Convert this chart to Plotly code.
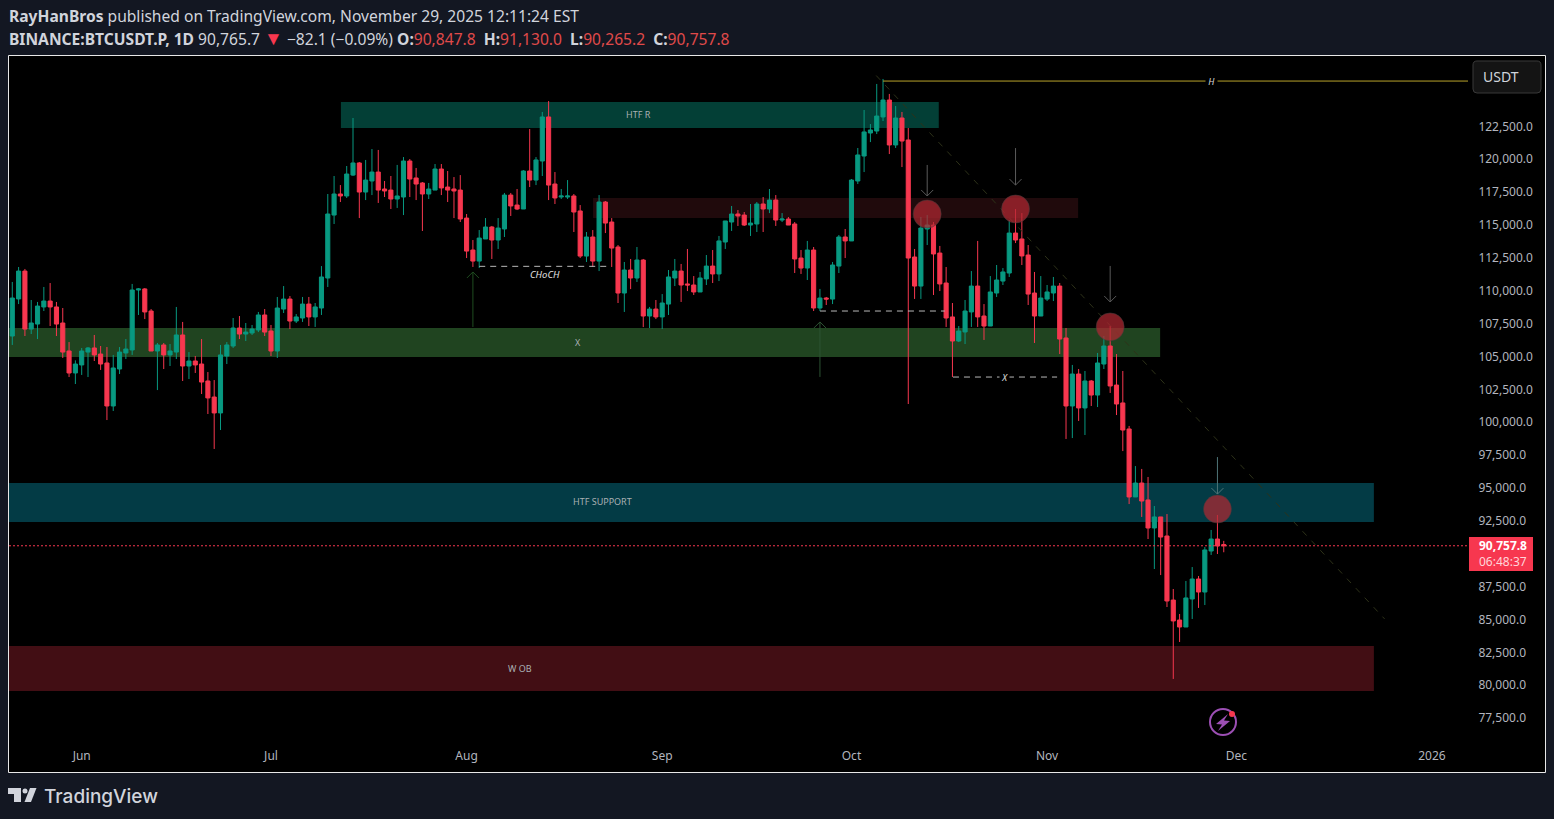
import pandas as pd
import plotly.graph_objects as go

W, H = 1554, 819

first_day = '2025-05-21'
opens = [
    106710, 109530, 111650, 107240, 107620, 108920, 109370, 108920, 107700, 105570,
    103900, 104510, 105490, 105800, 105340, 104660, 101390, 104200, 105420, 105650,
    110210, 110290, 108610, 105570, 106030, 105270, 105490, 106790, 104430, 104810,
    104580, 103290, 102070, 100860, 105190, 105950, 107320, 106860, 106940, 107170,
    108310, 107090, 105570, 108760, 109520, 107850, 108080, 109140, 108160, 108840,
    111120, 115910, 117510, 117360, 118950, 119870, 117660, 118500, 119180, 117890,
    117810, 117130, 117280, 120020, 118730, 118350, 117510, 117810, 119410, 118040,
    117890, 117810, 115680, 113250, 112410, 114090, 115000, 114010, 114850, 117430,
    116670, 116370, 119260, 118570, 120020, 123370, 118270, 117280, 117280, 117360,
    116220, 112790, 114240, 112410, 116900, 115380, 113480, 109980, 111730, 111120,
    112490, 108230, 108760, 108160, 109140, 111120, 111650, 110670, 110590, 110060,
    111050, 112030, 111430, 113860, 115380, 115990, 115910, 115150, 115230, 116750,
    116370, 117050, 115530, 115610, 115230, 112640, 111880, 113250, 108840, 109600,
    109520, 112030, 114240, 113940, 118500, 120400, 122150, 122300, 123370, 124660,
    121240, 123290, 121620, 112720, 110510, 114850, 115150, 113020, 110740, 108160,
    106330, 107020, 108540, 110510, 108230, 107470, 109980, 110890, 111500, 114540,
    114090, 112870, 109980, 108230, 109520, 109980, 110510, 106560, 101390, 103820,
    101240, 103290, 102220, 104580, 105950, 102980, 101620, 99640, 94470, 95530,
    94240, 92110, 92950, 91500, 86630, 85110, 84580, 86710, 88230, 87240,
    90360, 91270, 90847.8,
]
highs = [
    110820, 111960, 111810, 109450, 109300, 110440, 110740, 109300, 108840, 106250,
    104860, 105800, 105870, 106790, 105950, 105870, 105270, 105870, 106480, 110670,
    110360, 110360, 108760, 106180, 106180, 106100, 108920, 107780, 105490, 105190,
    106480, 103970, 103360, 106030, 106250, 108080, 108230, 107700, 107550, 108540,
    108760, 107550, 109680, 110510, 109750, 108380, 109680, 109680, 109220, 112030,
    117510, 118880, 118190, 119640, 123290, 119940, 120100, 120930, 120860, 118500,
    118880, 119720, 120320, 120170, 119490, 118420, 118350, 119790, 119790, 119260,
    118800, 118950, 115990, 114010, 114770, 115680, 115080, 115680, 117590, 117590,
    117890, 119330, 122450, 120320, 123750, 124580, 119180, 117890, 118570, 117510,
    116670, 114620, 114770, 117430, 116980, 115680, 113630, 112340, 112570, 113480,
    112570, 108920, 109450, 109900, 111730, 112570, 112190, 113330, 111270, 111580,
    112870, 113250, 114320, 115460, 116600, 116290, 116140, 116750, 116900, 117280,
    117890, 117430, 116060, 115760, 115380, 113250, 113940, 113480, 110290, 109680,
    112340, 114390, 114850, 118650, 121010, 123900, 122830, 125880, 126260, 125120,
    124200, 123750, 122530, 113330, 115760, 115910, 115380, 113560, 111960, 109220,
    107470, 109450, 111650, 113940, 109140, 111270, 112110, 111880, 115530, 116370,
    116060, 113630, 111580, 111270, 110590, 111200, 110740, 107320, 104510, 104200,
    104050, 103360, 105420, 106710, 107470, 105340, 104050, 99870, 96820, 96600,
    95990, 93780, 92950, 93170, 87470, 85570, 88080, 89140, 88460, 90660,
    91960, 93100, 91130.0,
]
lows = [
    106030, 109140, 106710, 106860, 106480, 108610, 107470, 106710, 105040, 103590,
    103060, 103750, 103590, 104810, 104130, 100320, 101010, 103820, 104960, 105270,
    108310, 108000, 105570, 102600, 104200, 104430, 104960, 103290, 103440, 103900,
    102300, 100780, 98120, 99560, 104580, 105800, 106480, 106330, 106790, 107010,
    106710, 105190, 105040, 108460, 107240, 107700, 107780, 107470, 107400, 108310,
    110440, 115230, 116900, 117210, 118880, 115680, 117050, 117430, 116830, 117280,
    116370, 116450, 115910, 117280, 117050, 114700, 117130, 117810, 117430, 116900,
    115680, 115380, 112640, 111960, 111880, 114090, 112570, 113330, 114240, 115840,
    116290, 116370, 118040, 118190, 118880, 117050, 116750, 117130, 117130, 114620,
    112640, 112340, 111960, 111650, 114540, 111960, 109220, 108540, 110280, 110820,
    107390, 107320, 108000, 107240, 108310, 110510, 109300, 110130, 109830, 110060,
    110590, 110740, 110890, 113330, 114700, 115080, 115080, 114320, 114620, 114620,
    116060, 115080, 115380, 115150, 111500, 111430, 110970, 108610, 108610, 109070,
    109140, 111500, 112640, 113940, 118270, 119180, 121460, 122070, 123060, 120550,
    121010, 119560, 101540, 109530, 109530, 113630, 109830, 110130, 107400, 103590,
    106250, 106100, 107400, 107400, 106410, 107470, 109680, 110590, 111200, 113780,
    112110, 109070, 106180, 108230, 109370, 109370, 105340, 98880, 98950, 100250,
    99180, 101390, 101310, 104200, 102380, 100700, 97960, 93930, 94470, 92950,
    91270, 88990, 88530, 86100, 80630, 83440, 84580, 85190, 86030, 86250,
    90060, 90130, 90265.2,
]
closes = [
    109600, 111650, 107240, 107700, 108990, 109370, 108920, 107620, 105490, 103900,
    104580, 105570, 105800, 105270, 104580, 101390, 104280, 105490, 105720, 110210,
    110290, 108540, 105570, 106030, 105270, 105570, 106790, 104430, 104810, 104510,
    103210, 102000, 100860, 105270, 106030, 107320, 106860, 107010, 107240, 108310,
    107010, 105570, 108840, 109520, 107850, 108160, 109140, 108160, 108920, 111200,
    115990, 117510, 117360, 119030, 119870, 117660, 118570, 119180, 117810, 117740,
    117130, 117360, 120020, 118650, 118270, 117510, 117890, 119410, 117970, 117810,
    117740, 115610, 113170, 112410, 114160, 115000, 114010, 114920, 117430, 116600,
    116370, 119260, 118570, 120100, 123370, 118190, 117210, 117360, 117360, 116140,
    112790, 114240, 112410, 116900, 115300, 113400, 109980, 111730, 111120, 112490,
    108230, 108760, 108160, 109220, 111200, 111650, 110590, 110590, 110060, 111120,
    112030, 111430, 113940, 115460, 115990, 115840, 115150, 115300, 116750, 116370,
    117050, 115530, 115610, 115150, 112570, 111880, 113250, 108840, 109600, 109520,
    112110, 114240, 113940, 118570, 120480, 122230, 122380, 123440, 124660, 121240,
    123290, 121540, 112640, 110510, 114920, 115150, 112950, 110670, 108080, 106330,
    107090, 108610, 110510, 108160, 107470, 110060, 110970, 111580, 114540, 114010,
    112800, 109900, 108230, 109600, 110060, 110510, 106480, 101390, 103820, 101240,
    103290, 102220, 104660, 105950, 102910, 101540, 99560, 94470, 95530, 94160,
    92110, 92950, 91420, 86560, 85040, 84580, 86790, 88230, 87240, 90440,
    91270, 90740, 90757.8,
]

# 90,000 sits under the last price tag and 125,000 under the USDT button
price_ticks = [77500, 80000, 82500, 85000, 87500, 92500, 95000, 97500, 100000, 102500,
               105000, 107500, 110000, 112500, 115000, 117500, 120000, 122500]
month_ticks = ['2025-06-01', '2025-07-01', '2025-08-01', '2025-09-01',
               '2025-10-01', '2025-11-01', '2025-12-01', '2026-01-01']
month_labels = ['Jun', 'Jul', 'Aug', 'Sep', 'Oct', 'Nov', 'Dec', '2026']

dates = pd.date_range(first_day, periods=len(opens), freq='D')

BG = '#131722'
UP = '#089981'
DOWN = '#F7374F'
AXIS_TEXT = '#b2b5be'
FONT = 'Noto Sans'


def px(x):
    return x / W


def py(y):
    return 1 - y / H


def paper_path(points, **kw):
    path = 'M' + 'L'.join(f'{px(a):.5f},{py(b):.5f}' for a, b in points) + 'Z'
    return dict(type='path', path=path, xref='paper', yref='paper', **kw)


def zone(x0, x1, y0, y1, color):
    return dict(type='rect', x0=x0, x1=x1, y0=y0, y1=y1, xref='x', yref='y',
                fillcolor=color, line_width=0, layer='below')


def level(x0, x1, y, color, dash='solid', width=1, layer='above'):
    return dict(type='line', x0=x0, x1=x1, y0=y, y1=y, xref='x', yref='y',
                line=dict(color=color, dash=dash, width=width), layer=layer)


def arrow(x, y, length, color, up=False):
    s = -1 if up else 1
    path = (f'M0,{s * length}L0,0M-6,{s * 6}L0,0L6,{s * 6}')
    return dict(type='path', path=path, xsizemode='pixel', ysizemode='pixel',
                xanchor=x, yanchor=y, xref='x', yref='y',
                line=dict(color=color, width=1))


def label(x, y, text, size=9, color='#a9b0b3', italic=False, bg=None):
    return dict(x=x, y=y, xref='x', yref='y', text=text, showarrow=False,
                bgcolor=bg, borderpad=0,
                font=dict(family=FONT, size=size, color=color,
                          style='italic' if italic else 'normal'))


def page_text(x, y, text, size=12, color='#d1d4dc', anchor='left', family=FONT, **font_kw):
    return dict(x=px(x), y=py(y), xref='paper', yref='paper', text=text,
                showarrow=False, xanchor=anchor, yanchor='middle',
                font=dict(family=family, size=size, color=color, **font_kw))


fig = go.Figure()

fig.add_trace(go.Candlestick(
    x=dates, open=opens, high=highs, low=lows, close=closes,
    increasing=dict(line=dict(color=UP, width=1), fillcolor=UP),
    decreasing=dict(line=dict(color=DOWN, width=1), fillcolor=DOWN),
    whiskerwidth=0,
    showlegend=False,
))

# falling trendline
fig.add_trace(go.Scatter(
    x=['2025-10-04 22:00', '2025-12-24 12:00'], y=[126520, 85190],
    mode='lines', line=dict(color='#2e3219', width=1, dash='6px,7px'),
    hoverinfo='skip', showlegend=False,
))

# rejection circles
fig.add_trace(go.Scatter(
    x=['2025-10-13', '2025-10-27', '2025-11-11', '2025-11-28'],
    y=[115990, 116370, 107400, 93550],
    mode='markers',
    marker=dict(size=28, color='rgba(178,40,50,0.72)',
                line=dict(color='rgba(60,60,60,0.5)', width=1)),
    hoverinfo='skip', showlegend=False,
))

x_left = '2025-05-20 11:30'
x_right = '2026-01-06 17:00'
shapes = [
    # chart frame, price scale included
    dict(type='rect', xref='paper', yref='paper', x0=px(8.5), x1=px(1545.5),
         y0=py(772.5), y1=py(55.5), fillcolor='#000000',
         line=dict(color='#e8e8e8', width=1), layer='below'),
    zone('2025-07-12 02:00', '2025-10-14 20:00', 122530, 124510, '#033f36'),
    zone('2025-08-21 01:00', '2025-11-05 22:00', 115680, 117210, '#200a0c'),
    zone('2025-05-01', '2025-11-18 22:00', 105110, 107320, '#204420'),
    zone('2025-05-01', '2025-12-22 19:00', 92570, 95530, '#033b45'),
    zone('2025-05-01', '2025-12-22 19:00', 79710, 83140, '#420e14'),
    level('2025-10-06', x_right, 126100, '#b9a32a'),
    level('2025-08-03', '2025-08-23 17:00', 112010, '#b8b8b8', dash='6px,5px'),
    level('2025-09-26', '2025-10-15 19:00', 108610, '#b8b8b8', dash='6px,5px'),
    level('2025-10-17 02:00', '2025-11-02 14:00', 103590, '#b8b8b8', dash='6px,5px'),
    level(x_left, x_right, 90757.8, DOWN, dash='2px,2px'),
    arrow('2025-08-02', 111580, 55, '#1f4d20', up=True),
    arrow('2025-09-26', 107780, 55, '#2c5232', up=True),
    arrow('2025-10-13', 117360, 31, '#5a5a5a'),
    arrow('2025-10-27', 118190, 37, '#5a5a5a'),
    arrow('2025-11-11', 109300, 36, '#5a5a5a'),
    arrow('2025-11-28', 94690, 37, '#4f7478'),
    # last price tag
    paper_path([(1469, 537), (1533, 537), (1533, 571), (1469, 571)],
               fillcolor=DOWN, line_width=0, layer='above'),
    # currency button
    dict(type='path', xref='paper', yref='paper', fillcolor='#141414',
         line=dict(color='#3a3a3a', width=1),
         path=(f'M{px(1477):.5f},{py(61):.5f}L{px(1537):.5f},{py(61):.5f}'
               f'Q{px(1541):.5f},{py(61):.5f} {px(1541):.5f},{py(65):.5f}'
               f'L{px(1541):.5f},{py(89):.5f}'
               f'Q{px(1541):.5f},{py(93):.5f} {px(1537):.5f},{py(93):.5f}'
               f'L{px(1477):.5f},{py(93):.5f}'
               f'Q{px(1473):.5f},{py(93):.5f} {px(1473):.5f},{py(89):.5f}'
               f'L{px(1473):.5f},{py(65):.5f}'
               f'Q{px(1473):.5f},{py(61):.5f} {px(1477):.5f},{py(61):.5f}Z')),
    # publisher logo
    paper_path([(8, 788), (21, 788), (21, 802), (14, 802), (14, 794), (8, 794)],
               fillcolor='#d1d4dc', line_width=0),
    dict(type='circle', xref='paper', yref='paper', x0=px(22.5), x1=px(27.5),
         y0=py(793.5), y1=py(788.5), fillcolor='#d1d4dc', line_width=0),
    paper_path([(30, 788), (36.5, 788), (31, 802), (24.5, 802)],
               fillcolor='#d1d4dc', line_width=0),
    # bolt badge
    dict(type='circle', xref='paper', yref='paper', x0=px(1210), x1=px(1236),
         y0=py(735), y1=py(709), fillcolor='#000000',
         line=dict(color='#9c4fb4', width=2)),
    paper_path([(1228, 714), (1216, 724), (1222, 724.5), (1218, 731),
                (1230, 721), (1224, 720.5)],
               fillcolor='#9c4fb4', line_width=0),
    dict(type='circle', xref='paper', yref='paper', x0=px(1229), x1=px(1235),
         y0=py(717), y1=py(711), fillcolor=DOWN, line_width=0),
]

red = '#e04a4a'
line_one = '<b>RayHanBros</b> published on TradingView.com, November 29, 2025 12:11:24 EST'
line_two = (
    '<b>BINANCE:BTCUSDT.P, 1D</b> 90,765.7 '
    f'<span style="color:{DOWN};font-size:19px">▼</span> −82.1 (−0.09%) '
    f'<b>O:</b><span style="color:{red}">90,847.8</span>&nbsp; '
    f'<b>H:</b><span style="color:{red}">91,130.0</span>&nbsp; '
    f'<b>L:</b><span style="color:{red}">90,265.2</span>&nbsp; '
    f'<b>C:</b><span style="color:{red}">90,757.8</span>'
)

annotations = [
    label('2025-08-28 07:00', 123520, 'HTF R'),
    label('2025-08-18 17:00', 106250, 'X'),
    label('2025-08-22 12:00', 94160, 'HTF SUPPORT'),
    label('2025-08-09 12:00', 81460, 'W OB'),
    label('2025-08-13 10:00', 111390, 'CHoCH', size=9.5, color='#e0e0e0', italic=True),
    label('2025-10-25 07:00', 103590, '&nbsp;X&nbsp;', color='#e0e0e0', italic=True, bg='#000000'),
    label('2025-11-27', 126100, '&nbsp;H&nbsp;', color='#d8d8d8', italic=True, bg='#000000'),
    page_text(6.5, 16, line_one, size=15.6),
    page_text(6.5, 38, line_two, size=15.6),
    page_text(1501, 76, 'USDT', size=14, anchor='center'),
    page_text(1503, 545.5, '<b>90,757.8</b>', size=12, color='#ffffff', anchor='center'),
    page_text(1503, 561, '06:48:37', size=12, color='#ffd5da', anchor='center'),
    page_text(41.5, 796, 'TradingView', size=19, color='#d1d4dc', family='Inter', weight=500),
]

fig.update_layout(
    width=W,
    height=H,
    margin=dict(l=0, r=0, t=0, b=0),
    paper_bgcolor=BG,
    plot_bgcolor='#000000',
    showlegend=False,
    boxgap=0.35,
    boxgroupgap=0,
    shapes=shapes,
    annotations=annotations,
    xaxis=dict(
        type='date',
        domain=[px(9), px(1468)],
        range=[x_left, x_right],
        rangeslider=dict(visible=False),
        tickmode='array',
        tickvals=month_ticks,
        ticktext=month_labels,
        showgrid=False,
        zeroline=False,
        showline=False,
        ticks='outside',
        ticklen=4,
        tickcolor='rgba(0,0,0,0)',
        tickfont=dict(family=FONT, size=12, color=AXIS_TEXT),
        anchor='y',
    ),
    yaxis=dict(
        domain=[py(741), py(57)],
        range=[75910, 127930],
        side='right',
        tickmode='array',
        tickvals=price_ticks,
        tickformat=',.1f',
        showgrid=False,
        zeroline=False,
        showline=False,
        ticks='outside',
        ticklen=7,
        tickcolor='rgba(0,0,0,0)',
        tickfont=dict(family=FONT, size=12, color=AXIS_TEXT),
        ticklabelshift=-2,
        anchor='x',
    ),
)

fig.write_html(
    'out.html',
    config=dict(displayModeBar=False),
    post_script=f"document.body.style.margin='0';document.body.style.background='{BG}';",
)
